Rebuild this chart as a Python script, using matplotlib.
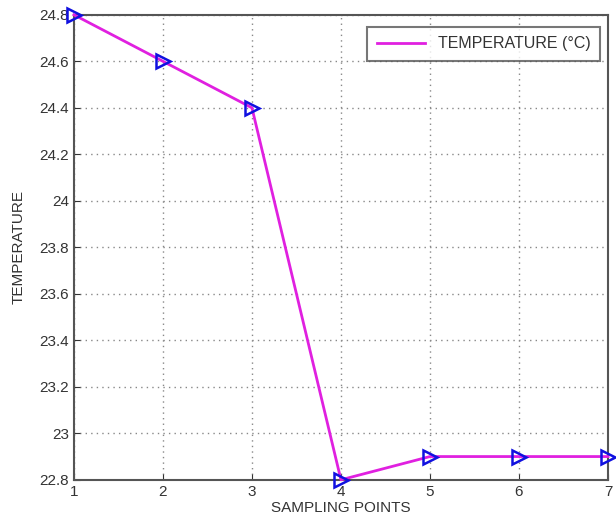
import matplotlib
matplotlib.use("Agg")
import matplotlib.pyplot as plt

x = [1, 2, 3, 4, 5, 6, 7]
temperature = [24.8, 24.6, 24.4, 22.8, 22.9, 22.9, 22.9]
xticks = [1, 2, 3, 4, 5, 6, 7]
yticks = [22.8, 23, 23.2, 23.4, 23.6, 23.8, 24, 24.2, 24.4, 24.6, 24.8]
ytick_labels = ["22.8", "23", "23.2", "23.4", "23.6", "23.8", "24", "24.2", "24.4", "24.6", "24.8"]

plt.rcParams['font.family'] = ['Liberation Sans', 'DejaVu Sans']

fig = plt.figure(figsize=(6.16, 5.29), dpi=100)
ax = fig.add_axes([0.12, 0.093, 0.867, 0.879])

ax.plot(x, temperature, color='#e020e0', linewidth=2, label='TEMPERATURE (°C)',
        clip_on=False, zorder=3)
ax.plot(x, temperature, linestyle='none', marker='>', markersize=10,
        markeredgecolor='#1010e0', markerfacecolor='none', markeredgewidth=1.8,
        clip_on=False, zorder=4)

ax.set_xlim(1, 7)
ax.set_ylim(22.8, 24.8)
ax.set_xticks(xticks)
ax.set_yticks(yticks)
ax.set_yticklabels(ytick_labels)
ax.tick_params(labelsize=11, colors='#333333', direction='in', length=4)
ax.grid(True, linestyle=(0, (1, 3)), color='#888888', linewidth=1)
for s in ax.spines.values():
    s.set_color('#555555')
    s.set_linewidth(1.5)

ax.set_xlabel('SAMPLING POINTS', fontsize=11, color='#333333', labelpad=2)
ax.set_ylabel('TEMPERATURE', fontsize=11, color='#333333', labelpad=10)

leg = ax.legend(loc='upper right', fontsize=11.5, frameon=True, fancybox=False,
                handlelength=3.0, borderpad=0.6, borderaxespad=0,
                bbox_to_anchor=(0.985, 0.974))
leg.get_frame().set_edgecolor('#555555')
leg.get_frame().set_linewidth(1.5)
for t in leg.get_texts():
    t.set_color('#333333')

fig.savefig('out.png', dpi=100)
